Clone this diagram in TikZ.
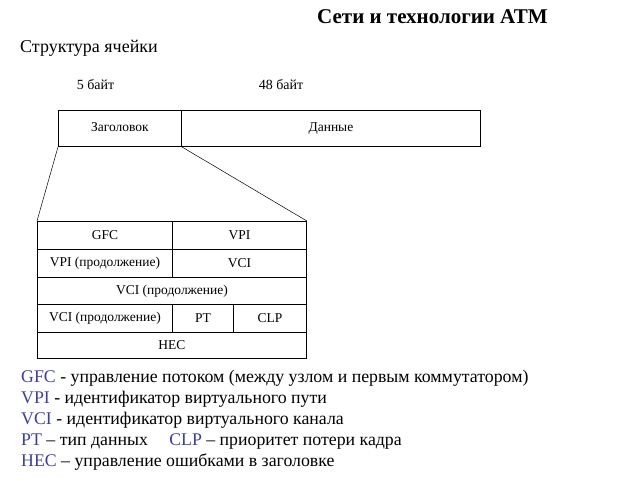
\documentclass[tikz,border=0pt]{standalone}
\usepackage{fontspec}
\setmainfont{Liberation Serif}
\definecolor{abbr}{RGB}{60,60,170}
\begin{document}
\begin{tikzpicture}[x=1pt,y=-1pt,
  cell/.style={draw, line width=0.9pt, anchor=north west, inner sep=0pt, font=\fontsize{13.5}{15}\selectfont},
  legend/.style={anchor=base west, inner sep=0pt, font=\fontsize{17.8}{20}\selectfont},
  lbl/.style={anchor=base, inner sep=0pt, font=\fontsize{14}{16}\selectfont}]
\useasboundingbox (0,0) rectangle (640,480);
\node[anchor=base west, inner sep=0pt, font=\fontsize{21}{24}\selectfont\bfseries] (title) at (317,23) {Сети и технологии ATM};
\node[anchor=base west, inner sep=0pt, font=\fontsize{18}{20}\selectfont] (sub) at (20,52) {Структура ячейки};
\node[lbl] (b5) at (95.5,89) {5 байт};
\node[lbl] (b48) at (281,89) {48 байт};
% cell
\node[cell, minimum width=123pt, minimum height=36pt] (hdr) at (58,110) {\raisebox{2pt}{Заголовок}};
\node[cell, minimum width=299pt, minimum height=36pt] (data) at (181,110) {\raisebox{2pt}{Данные}};
% header table
\node[cell, minimum width=135pt, minimum height=28pt] (gfc) at (37,221) {GFC};
\node[cell, minimum width=134pt, minimum height=28pt] (vpi) at (172,221) {VPI};
\node[cell, minimum width=135pt, minimum height=28pt] (vpic) at (37,249) {VPI (продолжение)};
\node[cell, minimum width=134pt, minimum height=28pt] (vci) at (172,249) {VCI};
\node[cell, minimum width=269pt, minimum height=27pt] (vcic) at (37,277) {VCI (продолжение)};
\node[cell, minimum width=135pt, minimum height=28pt] (vcic2) at (37,304) {VCI (продолжение)};
\node[cell, minimum width=61pt, minimum height=28pt] (pt) at (172,304) {PT};
\node[cell, minimum width=73pt, minimum height=28pt] (clp) at (233,304) {CLP};
\node[cell, minimum width=269pt, minimum height=26pt] (hec) at (37,332) {HEC};
\draw[line width=0.5pt] (hdr.south west) -- (gfc.north west);
\draw[line width=0.5pt] (hdr.south east) -- (vpi.north east);
% legend
\node[legend] (l1) at (21,382) {\textcolor{abbr}{GFC} - управление потоком (между узлом и первым коммутатором)};
\node[legend] (l2) at (21,403) {\textcolor{abbr}{VPI} - идентификатор виртуального пути};
\node[legend] (l3) at (21,424) {\textcolor{abbr}{VCI} - идентификатор виртуального канала};
\node[legend] (l4) at (21,445) {\textcolor{abbr}{PT} – тип данных\hspace{1.2em}\textcolor{abbr}{CLP} – приоритет потери кадра};
\node[legend] (l5) at (21,466) {\textcolor{abbr}{HEC} – управление ошибками в заголовке};
\end{tikzpicture}
\end{document}
